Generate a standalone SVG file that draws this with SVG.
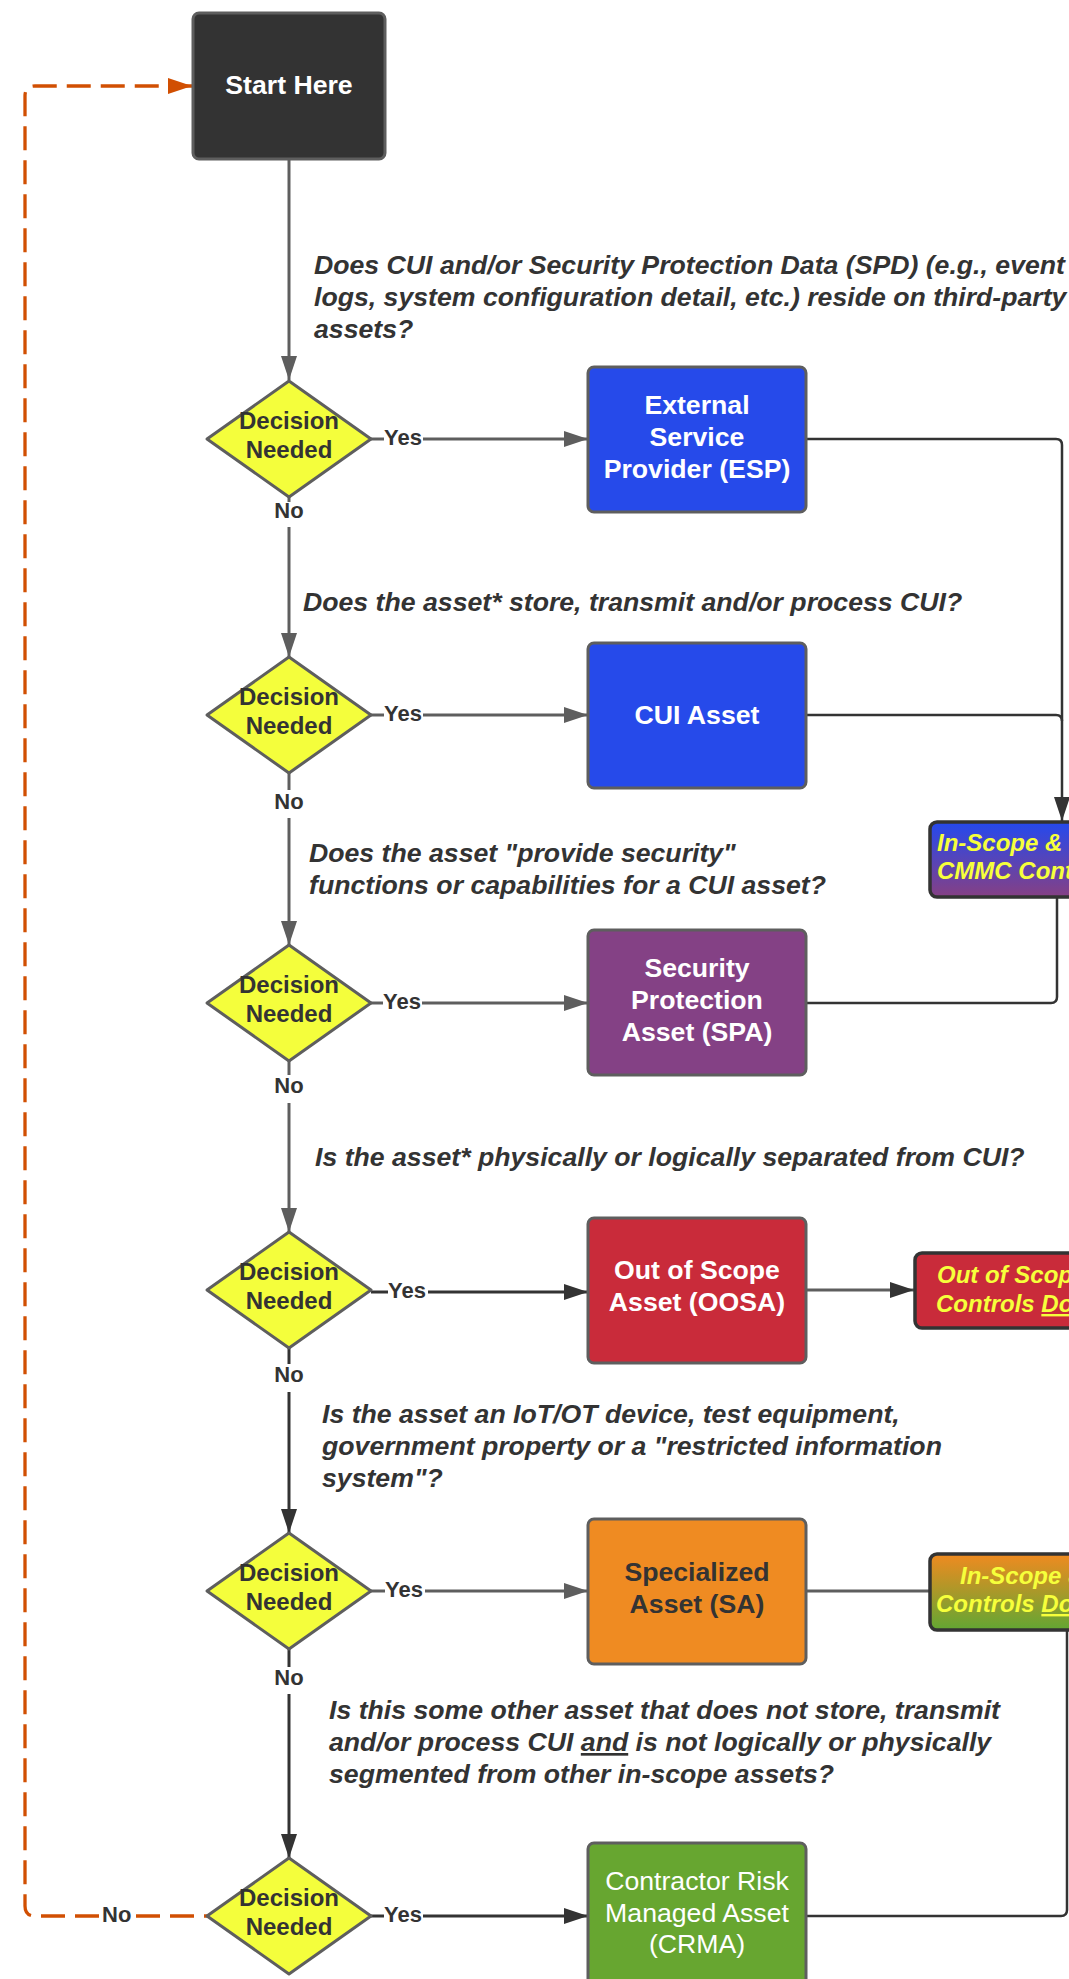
<svg xmlns="http://www.w3.org/2000/svg" width="1069" height="1979" viewBox="0 0 1069 1979">
<defs>
<style>
.q{font-family:"Liberation Sans",Arial,sans-serif;font-size:26.67px;font-weight:bold;font-style:italic;fill:#333}
.bt{font-family:"Liberation Sans",Arial,sans-serif;font-size:26.67px;font-weight:bold;fill:#fff;text-anchor:middle}
.dt{font-family:"Liberation Sans",Arial,sans-serif;font-size:24px;font-weight:bold;fill:#333;text-anchor:middle}
.lb{font-family:"Liberation Sans",Arial,sans-serif;font-size:22px;font-weight:bold;fill:#333}
.yt{font-family:"Liberation Sans",Arial,sans-serif;font-size:24px;font-weight:bold;font-style:italic;fill:#F6FF3B}
.dia{fill:#F4FE3C;stroke:#5E5E5E;stroke-width:3;stroke-linejoin:round}
.box{stroke:#5E5E5E;stroke-width:3}
.rbox{stroke:#333;stroke-width:3.5}
.g{fill:none;stroke:#5E5E5E;stroke-width:3}
.d{fill:none;stroke:#333;stroke-width:3}
.r{fill:none;stroke:#333;stroke-width:2.5}
.o{fill:none;stroke:#D14F02;stroke-width:3.3;stroke-dasharray:24 10}
</style>
<marker id="ag" markerUnits="userSpaceOnUse" markerWidth="24" markerHeight="16" refX="24" refY="8" orient="auto"><path d="M0,0 L24,8 L0,16 Z" fill="#5E5E5E"/></marker>
<marker id="ad" markerUnits="userSpaceOnUse" markerWidth="24" markerHeight="16" refX="24" refY="8" orient="auto"><path d="M0,0 L24,8 L0,16 Z" fill="#333"/></marker>
<marker id="ao" markerUnits="userSpaceOnUse" markerWidth="24" markerHeight="16" refX="24" refY="8" orient="auto"><path d="M0,0 L24,8 L0,16 Z" fill="#D14F02"/></marker>
<linearGradient id="gbp" x1="0" y1="0" x2="0" y2="1"><stop offset="0" stop-color="#2449EE"/><stop offset="1" stop-color="#864084"/></linearGradient>
<linearGradient id="gog" x1="0" y1="0" x2="0" y2="1"><stop offset="0" stop-color="#F08A20"/><stop offset="1" stop-color="#62A733"/></linearGradient>
</defs>

<g id="connectors">
<line class="g" x1="289" y1="159" x2="289" y2="380" stroke-width="2" marker-end="url(#ag)"/>
<line class="g" x1="289" y1="497" x2="289" y2="502"/>
<line class="g" x1="289" y1="527" x2="289" y2="657" marker-end="url(#ag)"/>
<line class="g" x1="289" y1="773" x2="289" y2="790"/>
<line class="g" x1="289" y1="818" x2="289" y2="945" marker-end="url(#ag)"/>
<line class="g" x1="289" y1="1061" x2="289" y2="1075"/>
<line class="g" x1="289" y1="1103" x2="289" y2="1232" marker-end="url(#ag)"/>
<line class="d" x1="289" y1="1348" x2="289" y2="1364"/>
<line class="d" x1="289" y1="1392" x2="289" y2="1533" marker-end="url(#ad)"/>
<line class="d" x1="289" y1="1649" x2="289" y2="1667"/>
<line class="d" x1="289" y1="1694" x2="289" y2="1858" marker-end="url(#ad)"/>

<line class="g" x1="371" y1="439" x2="384" y2="439"/>
<line class="g" x1="423" y1="439" x2="588" y2="439" marker-end="url(#ag)"/>
<line class="g" x1="371" y1="715" x2="384" y2="715"/>
<line class="g" x1="423" y1="715" x2="588" y2="715" marker-end="url(#ag)"/>
<line class="g" x1="371" y1="1003" x2="383" y2="1003"/>
<line class="g" x1="422" y1="1003" x2="588" y2="1003" marker-end="url(#ag)"/>
<line class="d" x1="371" y1="1292" x2="388" y2="1292"/>
<line class="d" x1="428" y1="1292" x2="588" y2="1292" marker-end="url(#ad)"/>
<line class="g" x1="371" y1="1591" x2="385" y2="1591"/>
<line class="g" x1="425" y1="1591" x2="588" y2="1591" marker-end="url(#ag)"/>
<line class="d" x1="371" y1="1916" x2="384" y2="1916"/>
<line class="d" x1="423" y1="1916" x2="588" y2="1916" marker-end="url(#ad)"/>

<path class="r" d="M806,439 H1056 Q1062,439 1062,445 V821" marker-end="url(#ad)"/>
<path class="r" d="M806,715 H1056 Q1062,715 1062,721"/>
<path class="r" d="M806,1003 H1051 Q1057,1003 1057,997 V897"/>
<path class="g" d="M806,1290 H914" stroke-width="2.5" marker-end="url(#ad)"/>
<path class="g" d="M806,1591 H930" stroke="#444" stroke-width="2.5"/>
<path class="r" d="M806,1916 H1061 Q1067,1916 1067,1910 V1630"/>

<path class="o" d="M136,1916 H207"/>
<path class="o" d="M99,1916 H35 Q25,1916 25,1906 V96 Q25,86 35,86 H192" marker-end="url(#ao)"/>
</g>

<g id="start">
<rect class="box" x="193" y="13" width="192" height="146" rx="6" fill="#333"/>
<text class="bt" x="289" y="94">Start Here</text>
</g>

<g id="q1"><text class="q" x="314" y="274">Does CUI and/or Security Protection Data (SPD) (e.g., event</text><text class="q" x="314" y="306">logs, system configuration detail, etc.) reside on third-party</text><text class="q" x="314" y="338">assets?</text></g>
<g id="q2"><text class="q" x="303" y="611">Does the asset* store, transmit and/or process CUI?</text></g>
<g id="q3"><text class="q" x="309" y="862">Does the asset "provide security"</text><text class="q" x="309" y="894">functions or capabilities for a CUI asset?</text></g>
<g id="q4"><text class="q" x="315" y="1166">Is the asset* physically or logically separated from CUI?</text></g>
<g id="q5"><text class="q" x="322" y="1423">Is the asset an IoT/OT device, test equipment,</text><text class="q" x="322" y="1455">government property or a "restricted information</text><text class="q" x="322" y="1487">system"?</text></g>
<g id="q6"><text class="q" x="329" y="1719">Is this some other asset that does not store, transmit</text><text class="q" x="329" y="1751">and/or process CUI <tspan text-decoration="underline">and</tspan> is not logically or physically</text><text class="q" x="329" y="1783">segmented from other in-scope assets?</text></g>

<g id="d1"><path class="dia" d="M289,381 L371,439 L289,497 L207,439 Z"/><text class="dt" x="289" y="429">Decision</text><text class="dt" x="289" y="458">Needed</text></g>
<g id="d2"><path class="dia" d="M289,657 L371,715 L289,773 L207,715 Z"/><text class="dt" x="289" y="705">Decision</text><text class="dt" x="289" y="734">Needed</text></g>
<g id="d3"><path class="dia" d="M289,945 L371,1003 L289,1061 L207,1003 Z"/><text class="dt" x="289" y="993">Decision</text><text class="dt" x="289" y="1022">Needed</text></g>
<g id="d4"><path class="dia" d="M289,1232 L371,1290 L289,1348 L207,1290 Z"/><text class="dt" x="289" y="1280">Decision</text><text class="dt" x="289" y="1309">Needed</text></g>
<g id="d5"><path class="dia" d="M289,1533 L371,1591 L289,1649 L207,1591 Z"/><text class="dt" x="289" y="1581">Decision</text><text class="dt" x="289" y="1610">Needed</text></g>
<g id="d6"><path class="dia" d="M289,1858 L371,1916 L289,1974 L207,1916 Z"/><text class="dt" x="289" y="1906">Decision</text><text class="dt" x="289" y="1935">Needed</text></g>

<g id="labels">
<text class="lb" x="384" y="445">Yes</text>
<text class="lb" x="384" y="721">Yes</text>
<text class="lb" x="383" y="1009">Yes</text>
<text class="lb" x="388" y="1298">Yes</text>
<text class="lb" x="385" y="1597">Yes</text>
<text class="lb" x="384" y="1922">Yes</text>
<text class="lb" x="289" y="518" font-size="20" text-anchor="middle">No</text>
<text class="lb" x="289" y="809" text-anchor="middle">No</text>
<text class="lb" x="289" y="1093" text-anchor="middle">No</text>
<text class="lb" x="289" y="1382" text-anchor="middle">No</text>
<text class="lb" x="289" y="1685" text-anchor="middle">No</text>
<text class="lb" x="102" y="1922">No</text>
</g>

<g id="esp"><rect class="box" x="588" y="367" width="218" height="145" rx="6" fill="#264AEA"/><text class="bt" x="697" y="414">External</text><text class="bt" x="697" y="446">Service</text><text class="bt" x="697" y="478">Provider (ESP)</text></g>
<g id="cui"><rect class="box" x="588" y="643" width="218" height="145" rx="6" fill="#264AEA"/><text class="bt" x="697" y="724">CUI Asset</text></g>
<g id="spa"><rect class="box" x="588" y="930" width="218" height="145" rx="6" fill="#844185"/><text class="bt" x="697" y="977">Security</text><text class="bt" x="697" y="1009">Protection</text><text class="bt" x="697" y="1041">Asset (SPA)</text></g>
<g id="oosa"><rect class="box" x="588" y="1218" width="218" height="145" rx="6" fill="#C92B3A"/><text class="bt" x="697" y="1279">Out of Scope</text><text class="bt" x="697" y="1311">Asset (OOSA)</text></g>
<g id="sa"><rect class="box" x="588" y="1519" width="218" height="145" rx="6" fill="#EF8B22"/><text class="bt" x="697" y="1581" style="fill:#333">Specialized</text><text class="bt" x="697" y="1613" style="fill:#333">Asset (SA)</text></g>
<g id="crma"><rect class="box" x="588" y="1843" width="218" height="145" rx="6" fill="#67A630"/><text class="bt" x="697" y="1890" style="font-weight:normal">Contractor Risk</text><text class="bt" x="697" y="1922" style="font-weight:normal">Managed Asset</text><text class="bt" x="697" y="1953" style="font-weight:normal">(CRMA)</text></g>

<g id="inscope-cmmc"><rect class="rbox" x="930" y="822" width="220" height="75" rx="7" fill="url(#gbp)"/><text class="yt" x="937" y="851">In-Scope &amp;</text><text class="yt" x="937" y="879">CMMC Controls</text></g>
<g id="outscope"><rect class="rbox" x="915" y="1253" width="220" height="75" rx="7" fill="#C92B3A"/><text class="yt" x="937" y="1283">Out of Scope</text><text class="yt" x="936" y="1312">Controls <tspan text-decoration="underline">Do</tspan></text></g>
<g id="inscope-sa"><rect class="rbox" x="930" y="1554" width="220" height="76" rx="7" fill="url(#gog)"/><text class="yt" x="960" y="1584">In-Scope &amp;</text><text class="yt" x="936" y="1612">Controls <tspan text-decoration="underline">Do</tspan></text></g>
</svg>
